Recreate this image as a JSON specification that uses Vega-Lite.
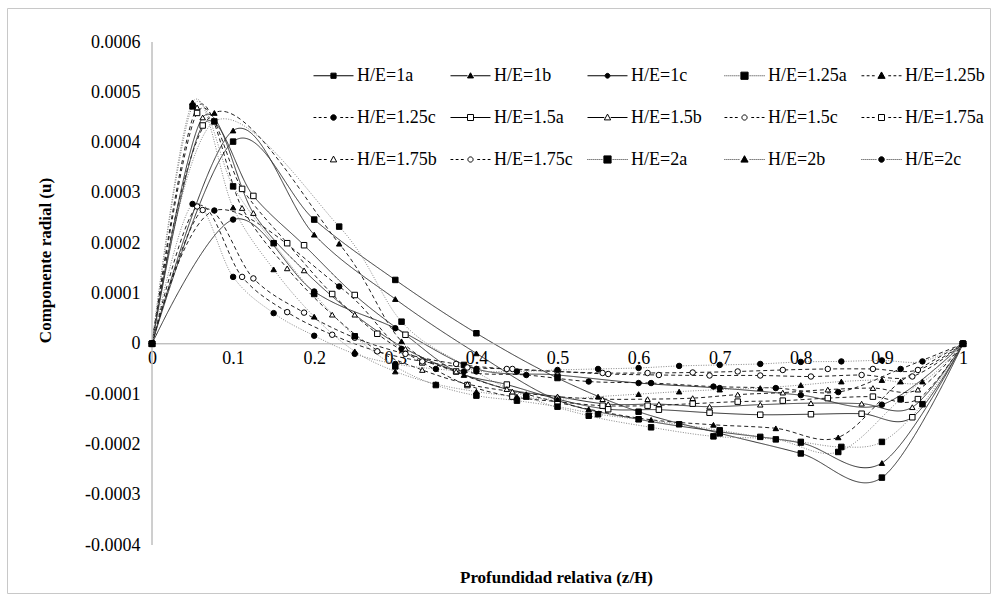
{
"$schema":"https://vega.github.io/schema/vega-lite/v6.json",
"width":983,"height":585,
"autosize":{"type":"none"},
"padding":{"left":7,"top":8,"right":2,"bottom":2},
"background":"white",
"config":{"view":{"stroke":"#c8c8c8","strokeWidth":1},"font":"Liberation Serif","axis":{"labelFont":"Liberation Serif","titleFont":"Liberation Serif","labelFontSize":18,"labelColor":"#000","domain":false,"ticks":false,"grid":false},"legend":{"labelFont":"Liberation Serif"}},
"data":{"values":[
{"s":"H/E=1a","x":0,"y":0},{"s":"H/E=1a","x":0.1,"y":4.02e-4},{"s":"H/E=1a","x":0.2,"y":2.47e-4},{"s":"H/E=1a","x":0.3,"y":1.27e-4},{"s":"H/E=1a","x":0.4,"y":0.21e-4},{"s":"H/E=1a","x":0.5,"y":-0.68e-4},{"s":"H/E=1a","x":0.6,"y":-1.35e-4},{"s":"H/E=1a","x":0.7,"y":-1.78e-4},{"s":"H/E=1a","x":0.8,"y":-2.18e-4},{"s":"H/E=1a","x":0.9,"y":-2.66e-4},{"s":"H/E=1a","x":1,"y":0},
{"s":"H/E=1b","x":0,"y":0},{"s":"H/E=1b","x":0.1,"y":4.24e-4},{"s":"H/E=1b","x":0.2,"y":2.17e-4},{"s":"H/E=1b","x":0.3,"y":0.89e-4},{"s":"H/E=1b","x":0.4,"y":-0.19e-4},{"s":"H/E=1b","x":0.5,"y":-1.12e-4},{"s":"H/E=1b","x":0.6,"y":-1.5e-4},{"s":"H/E=1b","x":0.7,"y":-1.75e-4},{"s":"H/E=1b","x":0.8,"y":-1.97e-4},{"s":"H/E=1b","x":0.9,"y":-2.37e-4},{"s":"H/E=1b","x":1,"y":0},
{"s":"H/E=1c","x":0,"y":0},{"s":"H/E=1c","x":0.1,"y":2.47e-4},{"s":"H/E=1c","x":0.2,"y":1.04e-4},{"s":"H/E=1c","x":0.3,"y":0.31e-4},{"s":"H/E=1c","x":0.4,"y":-0.5e-4},{"s":"H/E=1c","x":0.5,"y":-0.62e-4},{"s":"H/E=1c","x":0.6,"y":-0.78e-4},{"s":"H/E=1c","x":0.7,"y":-0.88e-4},{"s":"H/E=1c","x":0.8,"y":-1.02e-4},{"s":"H/E=1c","x":0.9,"y":-1.21e-4},{"s":"H/E=1c","x":1,"y":0},
{"s":"H/E=1.25a","x":0,"y":0},{"s":"H/E=1.25a","x":0.0769,"y":4.42e-4},{"s":"H/E=1.25a","x":0.2308,"y":2.33e-4},{"s":"H/E=1.25a","x":0.3077,"y":0.44e-4},{"s":"H/E=1.25a","x":0.3846,"y":-0.42e-4},{"s":"H/E=1.25a","x":0.4615,"y":-1.05e-4},{"s":"H/E=1.25a","x":0.5385,"y":-1.43e-4},{"s":"H/E=1.25a","x":0.6154,"y":-1.66e-4},{"s":"H/E=1.25a","x":0.6923,"y":-1.84e-4},{"s":"H/E=1.25a","x":0.7692,"y":-1.9e-4},{"s":"H/E=1.25a","x":0.8462,"y":-2.15e-4},{"s":"H/E=1.25a","x":0.9231,"y":-1.1e-4},{"s":"H/E=1.25a","x":1,"y":0},
{"s":"H/E=1.25b","x":0,"y":0},{"s":"H/E=1.25b","x":0.0769,"y":4.59e-4},{"s":"H/E=1.25b","x":0.2308,"y":1.99e-4},{"s":"H/E=1.25b","x":0.3077,"y":0.05e-4},{"s":"H/E=1.25b","x":0.3846,"y":-0.62e-4},{"s":"H/E=1.25b","x":0.4615,"y":-1.0e-4},{"s":"H/E=1.25b","x":0.5385,"y":-1.3e-4},{"s":"H/E=1.25b","x":0.6154,"y":-1.51e-4},{"s":"H/E=1.25b","x":0.6923,"y":-1.61e-4},{"s":"H/E=1.25b","x":0.7692,"y":-1.68e-4},{"s":"H/E=1.25b","x":0.8462,"y":-1.86e-4},{"s":"H/E=1.25b","x":0.9231,"y":-0.75e-4},{"s":"H/E=1.25b","x":1,"y":0},
{"s":"H/E=1.25c","x":0,"y":0},{"s":"H/E=1.25c","x":0.0769,"y":2.65e-4},{"s":"H/E=1.25c","x":0.2308,"y":1.14e-4},{"s":"H/E=1.25c","x":0.3077,"y":-0.1e-4},{"s":"H/E=1.25c","x":0.3846,"y":-0.55e-4},{"s":"H/E=1.25c","x":0.4615,"y":-0.62e-4},{"s":"H/E=1.25c","x":0.5385,"y":-0.75e-4},{"s":"H/E=1.25c","x":0.6154,"y":-0.78e-4},{"s":"H/E=1.25c","x":0.6923,"y":-0.85e-4},{"s":"H/E=1.25c","x":0.7692,"y":-0.88e-4},{"s":"H/E=1.25c","x":0.8462,"y":-0.96e-4},{"s":"H/E=1.25c","x":0.9231,"y":-0.5e-4},{"s":"H/E=1.25c","x":1,"y":0},
{"s":"H/E=1.5a","x":0,"y":0},{"s":"H/E=1.5a","x":0.0625,"y":4.34e-4},{"s":"H/E=1.5a","x":0.125,"y":2.94e-4},{"s":"H/E=1.5a","x":0.1875,"y":1.96e-4},{"s":"H/E=1.5a","x":0.25,"y":0.97e-4},{"s":"H/E=1.5a","x":0.3125,"y":0.18e-4},{"s":"H/E=1.5a","x":0.375,"y":-0.55e-4},{"s":"H/E=1.5a","x":0.4375,"y":-0.81e-4},{"s":"H/E=1.5a","x":0.5,"y":-1.1e-4},{"s":"H/E=1.5a","x":0.5625,"y":-1.3e-4},{"s":"H/E=1.5a","x":0.625,"y":-1.31e-4},{"s":"H/E=1.5a","x":0.6875,"y":-1.37e-4},{"s":"H/E=1.5a","x":0.75,"y":-1.41e-4},{"s":"H/E=1.5a","x":0.8125,"y":-1.4e-4},{"s":"H/E=1.5a","x":0.875,"y":-1.39e-4},{"s":"H/E=1.5a","x":0.9375,"y":-1.46e-4},{"s":"H/E=1.5a","x":1,"y":0},
{"s":"H/E=1.5b","x":0,"y":0},{"s":"H/E=1.5b","x":0.0625,"y":4.5e-4},{"s":"H/E=1.5b","x":0.125,"y":2.6e-4},{"s":"H/E=1.5b","x":0.1875,"y":1.46e-4},{"s":"H/E=1.5b","x":0.25,"y":0.58e-4},{"s":"H/E=1.5b","x":0.3125,"y":-0.1e-4},{"s":"H/E=1.5b","x":0.375,"y":-0.55e-4},{"s":"H/E=1.5b","x":0.4375,"y":-0.9e-4},{"s":"H/E=1.5b","x":0.5,"y":-1.05e-4},{"s":"H/E=1.5b","x":0.5625,"y":-1.2e-4},{"s":"H/E=1.5b","x":0.625,"y":-1.2e-4},{"s":"H/E=1.5b","x":0.6875,"y":-1.25e-4},{"s":"H/E=1.5b","x":0.75,"y":-1.21e-4},{"s":"H/E=1.5b","x":0.8125,"y":-1.18e-4},{"s":"H/E=1.5b","x":0.875,"y":-1.19e-4},{"s":"H/E=1.5b","x":0.9375,"y":-1.26e-4},{"s":"H/E=1.5b","x":1,"y":0},
{"s":"H/E=1.5c","x":0,"y":0},{"s":"H/E=1.5c","x":0.0625,"y":2.66e-4},{"s":"H/E=1.5c","x":0.125,"y":1.3e-4},{"s":"H/E=1.5c","x":0.1875,"y":0.62e-4},{"s":"H/E=1.5c","x":0.25,"y":0.12e-4},{"s":"H/E=1.5c","x":0.3125,"y":-0.2e-4},{"s":"H/E=1.5c","x":0.375,"y":-0.4e-4},{"s":"H/E=1.5c","x":0.4375,"y":-0.5e-4},{"s":"H/E=1.5c","x":0.5,"y":-0.55e-4},{"s":"H/E=1.5c","x":0.5625,"y":-0.6e-4},{"s":"H/E=1.5c","x":0.625,"y":-0.62e-4},{"s":"H/E=1.5c","x":0.6875,"y":-0.63e-4},{"s":"H/E=1.5c","x":0.75,"y":-0.63e-4},{"s":"H/E=1.5c","x":0.8125,"y":-0.65e-4},{"s":"H/E=1.5c","x":0.875,"y":-0.62e-4},{"s":"H/E=1.5c","x":0.9375,"y":-0.65e-4},{"s":"H/E=1.5c","x":1,"y":0},
{"s":"H/E=1.75a","x":0,"y":0},{"s":"H/E=1.75a","x":0.0556,"y":4.59e-4},{"s":"H/E=1.75a","x":0.1111,"y":3.08e-4},{"s":"H/E=1.75a","x":0.1667,"y":2.0e-4},{"s":"H/E=1.75a","x":0.2222,"y":0.99e-4},{"s":"H/E=1.75a","x":0.2778,"y":0.2e-4},{"s":"H/E=1.75a","x":0.3333,"y":-0.37e-4},{"s":"H/E=1.75a","x":0.3889,"y":-0.82e-4},{"s":"H/E=1.75a","x":0.4444,"y":-1.05e-4},{"s":"H/E=1.75a","x":0.5,"y":-1.15e-4},{"s":"H/E=1.75a","x":0.5556,"y":-1.23e-4},{"s":"H/E=1.75a","x":0.6111,"y":-1.23e-4},{"s":"H/E=1.75a","x":0.6667,"y":-1.19e-4},{"s":"H/E=1.75a","x":0.7222,"y":-1.15e-4},{"s":"H/E=1.75a","x":0.7778,"y":-1.13e-4},{"s":"H/E=1.75a","x":0.8333,"y":-1.08e-4},{"s":"H/E=1.75a","x":0.8889,"y":-1.05e-4},{"s":"H/E=1.75a","x":0.9444,"y":-1.1e-4},{"s":"H/E=1.75a","x":1,"y":0},
{"s":"H/E=1.75b","x":0,"y":0},{"s":"H/E=1.75b","x":0.0556,"y":4.7e-4},{"s":"H/E=1.75b","x":0.1111,"y":2.7e-4},{"s":"H/E=1.75b","x":0.1667,"y":1.5e-4},{"s":"H/E=1.75b","x":0.2222,"y":0.58e-4},{"s":"H/E=1.75b","x":0.2778,"y":-0.13e-4},{"s":"H/E=1.75b","x":0.3333,"y":-0.52e-4},{"s":"H/E=1.75b","x":0.3889,"y":-0.8e-4},{"s":"H/E=1.75b","x":0.4444,"y":-0.95e-4},{"s":"H/E=1.75b","x":0.5,"y":-1.05e-4},{"s":"H/E=1.75b","x":0.5556,"y":-1.1e-4},{"s":"H/E=1.75b","x":0.6111,"y":-1.1e-4},{"s":"H/E=1.75b","x":0.6667,"y":-1.08e-4},{"s":"H/E=1.75b","x":0.7222,"y":-1.01e-4},{"s":"H/E=1.75b","x":0.7778,"y":-0.97e-4},{"s":"H/E=1.75b","x":0.8333,"y":-0.91e-4},{"s":"H/E=1.75b","x":0.8889,"y":-0.88e-4},{"s":"H/E=1.75b","x":0.9444,"y":-0.91e-4},{"s":"H/E=1.75b","x":1,"y":0},
{"s":"H/E=1.75c","x":0,"y":0},{"s":"H/E=1.75c","x":0.0556,"y":2.73e-4},{"s":"H/E=1.75c","x":0.1111,"y":1.33e-4},{"s":"H/E=1.75c","x":0.1667,"y":0.63e-4},{"s":"H/E=1.75c","x":0.2222,"y":0.18e-4},{"s":"H/E=1.75c","x":0.2778,"y":-0.15e-4},{"s":"H/E=1.75c","x":0.3333,"y":-0.35e-4},{"s":"H/E=1.75c","x":0.3889,"y":-0.47e-4},{"s":"H/E=1.75c","x":0.4444,"y":-0.5e-4},{"s":"H/E=1.75c","x":0.5,"y":-0.55e-4},{"s":"H/E=1.75c","x":0.5556,"y":-0.58e-4},{"s":"H/E=1.75c","x":0.6111,"y":-0.58e-4},{"s":"H/E=1.75c","x":0.6667,"y":-0.57e-4},{"s":"H/E=1.75c","x":0.7222,"y":-0.55e-4},{"s":"H/E=1.75c","x":0.7778,"y":-0.52e-4},{"s":"H/E=1.75c","x":0.8333,"y":-0.5e-4},{"s":"H/E=1.75c","x":0.8889,"y":-0.5e-4},{"s":"H/E=1.75c","x":0.9444,"y":-0.52e-4},{"s":"H/E=1.75c","x":1,"y":0},
{"s":"H/E=2a","x":0,"y":0},{"s":"H/E=2a","x":0.05,"y":4.72e-4},{"s":"H/E=2a","x":0.1,"y":3.13e-4},{"s":"H/E=2a","x":0.15,"y":2.0e-4},{"s":"H/E=2a","x":0.2,"y":0.99e-4},{"s":"H/E=2a","x":0.25,"y":0.15e-4},{"s":"H/E=2a","x":0.3,"y":-0.45e-4},{"s":"H/E=2a","x":0.35,"y":-0.82e-4},{"s":"H/E=2a","x":0.4,"y":-1.03e-4},{"s":"H/E=2a","x":0.45,"y":-1.13e-4},{"s":"H/E=2a","x":0.5,"y":-1.25e-4},{"s":"H/E=2a","x":0.55,"y":-1.4e-4},{"s":"H/E=2a","x":0.6,"y":-1.5e-4},{"s":"H/E=2a","x":0.65,"y":-1.6e-4},{"s":"H/E=2a","x":0.7,"y":-1.72e-4},{"s":"H/E=2a","x":0.75,"y":-1.85e-4},{"s":"H/E=2a","x":0.8,"y":-1.95e-4},{"s":"H/E=2a","x":0.85,"y":-2.05e-4},{"s":"H/E=2a","x":0.9,"y":-1.95e-4},{"s":"H/E=2a","x":0.95,"y":-1.2e-4},{"s":"H/E=2a","x":1,"y":0},
{"s":"H/E=2b","x":0,"y":0},{"s":"H/E=2b","x":0.05,"y":4.8e-4},{"s":"H/E=2b","x":0.1,"y":2.71e-4},{"s":"H/E=2b","x":0.15,"y":1.48e-4},{"s":"H/E=2b","x":0.2,"y":0.54e-4},{"s":"H/E=2b","x":0.25,"y":-0.15e-4},{"s":"H/E=2b","x":0.3,"y":-0.55e-4},{"s":"H/E=2b","x":0.35,"y":-0.8e-4},{"s":"H/E=2b","x":0.4,"y":-0.95e-4},{"s":"H/E=2b","x":0.45,"y":-1.05e-4},{"s":"H/E=2b","x":0.5,"y":-1.1e-4},{"s":"H/E=2b","x":0.55,"y":-1.05e-4},{"s":"H/E=2b","x":0.6,"y":-1.0e-4},{"s":"H/E=2b","x":0.65,"y":-0.95e-4},{"s":"H/E=2b","x":0.7,"y":-0.91e-4},{"s":"H/E=2b","x":0.75,"y":-0.88e-4},{"s":"H/E=2b","x":0.8,"y":-0.82e-4},{"s":"H/E=2b","x":0.85,"y":-0.75e-4},{"s":"H/E=2b","x":0.9,"y":-0.72e-4},{"s":"H/E=2b","x":0.95,"y":-0.75e-4},{"s":"H/E=2b","x":1,"y":0},
{"s":"H/E=2c","x":0,"y":0},{"s":"H/E=2c","x":0.05,"y":2.78e-4},{"s":"H/E=2c","x":0.1,"y":1.33e-4},{"s":"H/E=2c","x":0.15,"y":0.61e-4},{"s":"H/E=2c","x":0.2,"y":0.16e-4},{"s":"H/E=2c","x":0.25,"y":-0.2e-4},{"s":"H/E=2c","x":0.3,"y":-0.4e-4},{"s":"H/E=2c","x":0.35,"y":-0.5e-4},{"s":"H/E=2c","x":0.4,"y":-0.55e-4},{"s":"H/E=2c","x":0.45,"y":-0.55e-4},{"s":"H/E=2c","x":0.5,"y":-0.52e-4},{"s":"H/E=2c","x":0.55,"y":-0.5e-4},{"s":"H/E=2c","x":0.6,"y":-0.48e-4},{"s":"H/E=2c","x":0.65,"y":-0.44e-4},{"s":"H/E=2c","x":0.7,"y":-0.42e-4},{"s":"H/E=2c","x":0.75,"y":-0.4e-4},{"s":"H/E=2c","x":0.8,"y":-0.36e-4},{"s":"H/E=2c","x":0.85,"y":-0.35e-4},{"s":"H/E=2c","x":0.9,"y":-0.33e-4},{"s":"H/E=2c","x":0.95,"y":-0.35e-4},{"s":"H/E=2c","x":1,"y":0}
]},
"layer":[
{"mark":{"type":"line","interpolate":"cardinal","strokeWidth":1},
 "encoding":{
  "x":{"field":"x","type":"quantitative","scale":{"domain":[-0.1788,1.0333],"nice":false,"zero":false},
   "axis":{"values":[0,0.1,0.2,0.3,0.4,0.5,0.6,0.7,0.8,0.9,1],"labelExpr":"datum.value == 0 ? '0' : datum.value == 1 ? '1' : format(datum.value, '.1f')","offset":-249,"domain":false,"ticks":false,"grid":false,"labelPadding":5,"labelFont":"Liberation Serif","labelFontSize":18,"labelColor":"#000","labelFlush":false,"labelOverlap":false,"title":"Profundidad  relativa (z/H)","titleFont":"Liberation Serif","titleFontSize":17,"titleFontWeight":"bold","titleColor":"#000","titleX":549,"titleY":233,"titleBaseline":"middle"}},
  "y":{"field":"y","type":"quantitative","scale":{"domain":[-0.0004954,0.0006676],"nice":false,"zero":false},
   "axis":{"values":[-0.0004,-0.0003,-0.0002,-0.0001,0,0.0001,0.0002,0.0003,0.0004,0.0005,0.0006],"labelExpr":"datum.value == 0 ? '0' : (datum.value < 0 ? '-' : '') + format(abs(datum.value), '.4f')","offset":-145,"domain":false,"ticks":false,"grid":false,"labelPadding":12,"labelFont":"Liberation Serif","labelFontSize":18,"labelColor":"#000","labelFlush":false,"labelOverlap":false,"title":"Componente radial (u)","titleFont":"Liberation Serif","titleFontSize":17,"titleFontWeight":"bold","titleColor":"#000","titleX":-107,"titleY":252,"titleBaseline":"middle","titleAngle":270}},
  "detail":{"field":"s"},
  "stroke":{"field":"s","type":"nominal","legend":null,"scale":{"domain":["H/E=1a","H/E=1b","H/E=1c","H/E=1.25a","H/E=1.25b","H/E=1.25c","H/E=1.5a","H/E=1.5b","H/E=1.5c","H/E=1.75a","H/E=1.75b","H/E=1.75c","H/E=2a","H/E=2b","H/E=2c"],"range":["#333333","#333333","#333333","#888888","#222222","#222222","#333333","#333333","#222222","#222222","#222222","#222222","#888888","#888888","#888888"]}},
  "strokeDash":{"field":"s","type":"nominal","legend":null,"scale":{"domain":["H/E=1a","H/E=1b","H/E=1c","H/E=1.25a","H/E=1.25b","H/E=1.25c","H/E=1.5a","H/E=1.5b","H/E=1.5c","H/E=1.75a","H/E=1.75b","H/E=1.75c","H/E=2a","H/E=2b","H/E=2c"],"range":[[1,0],[1,0],[1,0],[1,1.5],[4,3],[4,3],[1,0],[1,0],[4,3],[4,3],[4,3],[4,3],[1,1.5],[1,1.5],[1,1.5]]}}
 }},
{"data":{"values":[{}]},"mark":{"type":"rule","color":"#bfbfbf","strokeWidth":1.5},
 "encoding":{"x":{"datum":0,"type":"quantitative"},"y":{"datum":-0.0004,"type":"quantitative"},"y2":{"datum":0.0006}}},
{"data":{"values":[{}]},"mark":{"type":"rule","color":"#a6a6a6","strokeWidth":1},
 "encoding":{"y":{"datum":0,"type":"quantitative"},"x":{"datum":0,"type":"quantitative"},"x2":{"datum":1}}},
{"mark":{"type":"point","filled":false,"stroke":"#000","strokeWidth":1,"opacity":1},
 "encoding":{
  "x":{"field":"x","type":"quantitative"},
  "y":{"field":"y","type":"quantitative"},
  "shape":{"field":"s","type":"nominal","legend":null,"scale":{"domain":["H/E=1a","H/E=1b","H/E=1c","H/E=1.25a","H/E=1.25b","H/E=1.25c","H/E=1.5a","H/E=1.5b","H/E=1.5c","H/E=1.75a","H/E=1.75b","H/E=1.75c","H/E=2a","H/E=2b","H/E=2c"],"range":["square","triangle-up","circle","square","triangle-up","circle","square","triangle-up","circle","square","triangle-up","circle","square","triangle-up","circle"]}},
  "fill":{"field":"s","type":"nominal","legend":null,"scale":{"domain":["H/E=1a","H/E=1b","H/E=1c","H/E=1.25a","H/E=1.25b","H/E=1.25c","H/E=1.5a","H/E=1.5b","H/E=1.5c","H/E=1.75a","H/E=1.75b","H/E=1.75c","H/E=2a","H/E=2b","H/E=2c"],"range":["#000","#000","#000","#000","#000","#000","#fff","#fff","#fff","#fff","#fff","#fff","#000","#000","#000"]}},
  "size":{"field":"s","type":"nominal","legend":null,"scale":{"domain":["H/E=1a","H/E=1b","H/E=1c","H/E=1.25a","H/E=1.25b","H/E=1.25c","H/E=1.5a","H/E=1.5b","H/E=1.5c","H/E=1.75a","H/E=1.75b","H/E=1.75c","H/E=2a","H/E=2b","H/E=2c"],"range":[30,30,30,75,65,45,55,50,45,55,50,45,75,65,45]}}
 }},
{"transform":[{"filter":"false"}],
 "mark":{"type":"point","filled":false,"stroke":"#000","strokeWidth":1,"opacity":1},
 "encoding":{
  "shape":{"field":"s","type":"nominal","scale":{"domain":["H/E=1a","H/E=1.25c","H/E=1.75b","H/E=1b","H/E=1.5a","H/E=1.75c","H/E=1c","H/E=1.5b","H/E=2a","H/E=1.25a","H/E=1.5c","H/E=2b","H/E=1.25b","H/E=1.75a","H/E=2c"],"range":[
   "M-1,0H-0.13M0.13,0H1M-0.13,-0.13H0.13V0.13H-0.13Z",
   "M-1,0H-0.86M-0.74,0H-0.6M-0.48,0H-0.34M0.34,0H0.48M0.6,0H0.74M0.86,0H1M0.14,0A0.14,0.14 0 1,1 -0.14,0A0.14,0.14 0 1,1 0.14,0Z",
   "M-1,0H-0.86M-0.74,0H-0.6M-0.48,0H-0.34M0.34,0H0.48M0.6,0H0.74M0.86,0H1M0,-0.17L0.16,0.12H-0.16Z",
   "M-1,0H-0.15M0.15,0H1M0,-0.15L0.15,0.11H-0.15Z",
   "M-1,0H-0.15M0.15,0H1M-0.15,-0.15H0.15V0.15H-0.15Z",
   "M-1,0H-0.86M-0.74,0H-0.6M-0.48,0H-0.34M0.34,0H0.48M0.6,0H0.74M0.86,0H1M0.13,0A0.13,0.13 0 1,1 -0.13,0A0.13,0.13 0 1,1 0.13,0Z",
   "M-1,0H-0.12M0.12,0H1M0.12,0A0.12,0.12 0 1,1 -0.12,0A0.12,0.12 0 1,1 0.12,0Z",
   "M-1,0H-0.16M0.16,0H1M0,-0.17L0.16,0.12H-0.16Z",
   "M-1,0H-0.96M-0.9,0H-0.86M-0.8,0H-0.76M-0.7,0H-0.66M-0.6,0H-0.56M-0.5,0H-0.46M-0.4,0H-0.36M-0.3,0H-0.26M0.26,0H0.3M0.36,0H0.4M0.46,0H0.5M0.56,0H0.6M0.66,0H0.7M0.76,0H0.8M0.86,0H0.9M0.96,0H1M-0.18,-0.18H0.18V0.18H-0.18Z",
   "M-1,0H-0.96M-0.9,0H-0.86M-0.8,0H-0.76M-0.7,0H-0.66M-0.6,0H-0.56M-0.5,0H-0.46M-0.4,0H-0.36M-0.3,0H-0.26M0.26,0H0.3M0.36,0H0.4M0.46,0H0.5M0.56,0H0.6M0.66,0H0.7M0.76,0H0.8M0.86,0H0.9M0.96,0H1M-0.18,-0.18H0.18V0.18H-0.18Z",
   "M-1,0H-0.86M-0.74,0H-0.6M-0.48,0H-0.34M0.34,0H0.48M0.6,0H0.74M0.86,0H1M0.13,0A0.13,0.13 0 1,1 -0.13,0A0.13,0.13 0 1,1 0.13,0Z",
   "M-1,0H-0.96M-0.9,0H-0.86M-0.8,0H-0.76M-0.7,0H-0.66M-0.6,0H-0.56M-0.5,0H-0.46M-0.4,0H-0.36M-0.3,0H-0.26M0.26,0H0.3M0.36,0H0.4M0.46,0H0.5M0.56,0H0.6M0.66,0H0.7M0.76,0H0.8M0.86,0H0.9M0.96,0H1M0,-0.19L0.18,0.13H-0.18Z",
   "M-1,0H-0.86M-0.74,0H-0.6M-0.48,0H-0.34M0.34,0H0.48M0.6,0H0.74M0.86,0H1M0,-0.19L0.18,0.13H-0.18Z",
   "M-1,0H-0.86M-0.74,0H-0.6M-0.48,0H-0.34M0.34,0H0.48M0.6,0H0.74M0.86,0H1M-0.15,-0.15H0.15V0.15H-0.15Z",
   "M-1,0H-0.96M-0.9,0H-0.86M-0.8,0H-0.76M-0.7,0H-0.66M-0.6,0H-0.56M-0.5,0H-0.46M-0.4,0H-0.36M-0.3,0H-0.26M0.26,0H0.3M0.36,0H0.4M0.46,0H0.5M0.56,0H0.6M0.66,0H0.7M0.76,0H0.8M0.86,0H0.9M0.96,0H1M0.14,0A0.14,0.14 0 1,1 -0.14,0A0.14,0.14 0 1,1 0.14,0Z"
  ]},
   "legend":{"title":null,"orient":"none","legendX":306,"legendY":47,"columns":5,"columnPadding":11,"rowPadding":12,"gridAlign":"all","padding":0,"labelFont":"Liberation Serif","labelFontSize":18,"labelColor":"#000","labelOffset":3,"labelLimit":200,"symbolSize":1600,"symbolStrokeColor":"#000","symbolStrokeWidth":1,"symbolOpacity":1,
    "encode":{"symbols":{"update":{"stroke":{"value":"#000"},"strokeWidth":{"value":1},"opacity":{"value":1}}}}}},
  "fill":{"field":"s","type":"nominal","scale":{"domain":["H/E=1a","H/E=1.25c","H/E=1.75b","H/E=1b","H/E=1.5a","H/E=1.75c","H/E=1c","H/E=1.5b","H/E=2a","H/E=1.25a","H/E=1.5c","H/E=2b","H/E=1.25b","H/E=1.75a","H/E=2c"],"range":["#000","#000","#fff","#000","#fff","#fff","#000","#fff","#000","#000","#fff","#000","#000","#fff","#000"]},
   "legend":{"title":null,"orient":"none","legendX":306,"legendY":47,"columns":5,"columnPadding":11,"rowPadding":12,"gridAlign":"all","padding":0,"labelFont":"Liberation Serif","labelFontSize":18,"labelColor":"#000","labelOffset":3,"labelLimit":200,"symbolSize":1600,"symbolStrokeColor":"#000","symbolStrokeWidth":1,"symbolOpacity":1,
    "encode":{"symbols":{"update":{"stroke":{"value":"#000"},"strokeWidth":{"value":1},"opacity":{"value":1}}}}}}
 }}
],
"resolve":{"scale":{"shape":"independent","fill":"independent","size":"independent"}}
}
